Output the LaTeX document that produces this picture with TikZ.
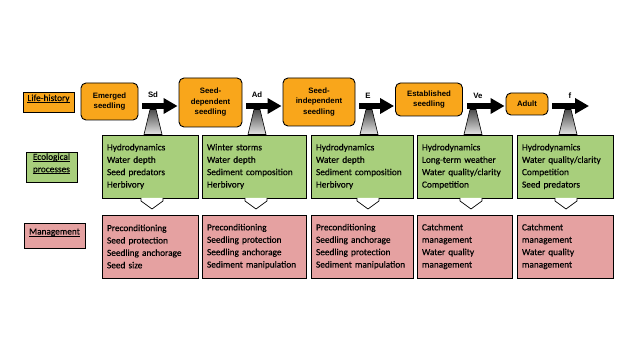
\documentclass[tikz,border=0pt]{standalone}
\usepackage{fontspec}
\setsansfont[FakeBold=0.3]{Carlito}
\newfontfamily\arialfont{Liberation Sans}
\usepackage{tikz}
\usetikzlibrary{positioning,arrows.meta}
\definecolor{lhorange}{HTML}{F9A61B}
\definecolor{ecgreen}{HTML}{A8CF7C}
\definecolor{mgpink}{HTML}{E5A1A1}
\newcommand\ulbl[1]{\underline{\smash{#1}}}

\begin{document}
\begin{tikzpicture}[x=1pt,y=-1pt,font=\sffamily\fontsize{9.3}{12.4}\selectfont,
  stage/.style={rectangle,rounded corners=5pt,draw=black,fill=lhorange,line width=0.9pt,align=center,inner sep=2pt,font=\arialfont\bfseries\fontsize{7.8}{10.5}\selectfont},
  rowlbl/.style={rectangle,draw=black,line width=0.6pt,align=left,inner sep=2pt},
  eco/.style={rectangle,draw=black,fill=ecgreen,line width=0.7pt,align=left,inner sep=5pt,minimum height=63pt},
  mgmt/.style={rectangle,draw=black,fill=mgpink,line width=0.7pt,align=left,inner sep=5pt,minimum height=63pt},
  rate/.style={inner sep=1pt,font=\arialfont\bfseries\fontsize{7.8}{9}\selectfont},
  funnel/.style={draw=black,line width=0.6pt,top color=black!70,bottom color=black!10},
  chev/.style={draw=black,fill=white,line width=0.7pt},
  flow/.style={line width=5.5pt,-{Triangle[length=14pt,width=15pt]},shorten <=4pt,shorten >=1pt}]
  \fill[white] (0,0) rectangle (630,352);
  % row labels
  \node[rowlbl,fill=lhorange,minimum width=51pt,minimum height=20pt] (lhlbl) at (48.5,102) {\ulbl{Life-history}};
  \node[rowlbl,fill=ecgreen,minimum width=51pt,minimum height=30pt] (eclbl) at (51.5,167) {\ulbl{Ecological}\\\ulbl{processes}};
  \node[rowlbl,fill=mgpink,minimum width=61pt,minimum height=25pt] (mglbl) at (54.5,235.5) {\ulbl{Management}};
  % life-history stages
  \node[stage,minimum width=57pt,minimum height=37pt] (emerged) at (109.5,101.5) {Emerged\\seedling};
  \node[stage,minimum width=63pt,minimum height=49pt] (seeddep) at (210.5,102.5) {Seed-\\dependent\\seedling};
  \node[stage,minimum width=72pt,minimum height=48pt] (seedind) at (319,102) {Seed-\\independent\\seedling};
  \node[stage,minimum width=67pt,minimum height=33pt] (estab) at (429,99.5) {Established\\seedling};
  \node[stage,minimum width=42pt,minimum height=22pt] (adult) at (527,104) {Adult};
  \coordinate (row) at (0,106);
  \coordinate (fend) at (590,106);
  \draw[flow] (emerged.east |- row) -- (seeddep.west |- row);
  \draw[flow] (seeddep.east |- row) -- (seedind.west |- row);
  \draw[flow] (seedind.east |- row) -- (estab.west |- row);
  \draw[flow] (estab.east |- row) -- (adult.west |- row);
  \draw[flow] (adult.east |- row) -- (fend);
  \node[rate] (sd) at (153,95) {Sd};
  \node[rate] (ad) at (257,95) {Ad};
  \node[rate] (e) at (368,96) {E};
  \node[rate] (ve) at (478,96) {Ve};
  \node[rate] (f) at (570,96) {f};
  \shade[funnel] (150,109.5) -- (156,109.5) -- (162,134.5) -- (144,134.5) -- cycle;
  \shade[funnel] (254,109.5) -- (260,109.5) -- (266,134.5) -- (248,134.5) -- cycle;
  \shade[funnel] (366,109.5) -- (372,109.5) -- (378,134.5) -- (360,134.5) -- cycle;
  \shade[funnel] (470,109.5) -- (476,109.5) -- (482,134.5) -- (464,134.5) -- cycle;
  \shade[funnel] (565,109.5) -- (571,109.5) -- (577,134.5) -- (559,134.5) -- cycle;
  % ecological processes
  \node[eco,text width=86pt] (e1) at (150,166.5) {Hydrodynamics\\Water depth\\Seed predators\\Herbivory};
  \node[eco,text width=94pt] (e2) at (254,166.5) {Winter storms\\Water depth\\Sediment composition\\Herbivory};
  \node[eco,text width=92pt] (e3) at (362,166.5) {Hydrodynamics\\Water depth\\Sediment composition\\Herbivory};
  \node[eco,text width=85pt] (e4) at (464.5,166.5) {Hydrodynamics\\Long-term weather\\Water quality/clarity\\Competition};
  \node[eco,text width=86pt] (e5) at (565,166.5) {Hydrodynamics\\Water quality/clarity\\Competition\\Seed predators};
  \draw[chev] (141,198) -- ++(0,3) -- ++(11,8) -- ++(11,-8) -- ++(0,-3);
  \draw[chev] (245,198) -- ++(0,3) -- ++(11,8) -- ++(11,-8) -- ++(0,-3);
  \draw[chev] (357,198) -- ++(0,3) -- ++(11,8) -- ++(11,-8) -- ++(0,-3);
  \draw[chev] (460,198) -- ++(0,3) -- ++(11,8) -- ++(11,-8) -- ++(0,-3);
  \draw[chev] (555,198) -- ++(0,3) -- ++(11,8) -- ++(11,-8) -- ++(0,-3);
  % management
  \node[mgmt,text width=86pt] (m1) at (150,246.5) {Preconditioning\\Seed protection\\Seedling anchorage\\Seed size};
  \node[mgmt,text width=94pt] (m2) at (254,246.5) {Preconditioning\\Seedling protection\\Seedling anchorage\\Sediment manipulation};
  \node[mgmt,text width=92pt] (m3) at (362,246.5) {Preconditioning\\Seedling anchorage\\Seedling protection\\Sediment manipulation};
  \node[mgmt,text width=85pt] (m4) at (464.5,246.5) {Catchment\\management\\Water quality\\management};
  \node[mgmt,text width=86pt] (m5) at (565,246.5) {Catchment\\management\\Water quality\\management};
\end{tikzpicture}
\end{document}
